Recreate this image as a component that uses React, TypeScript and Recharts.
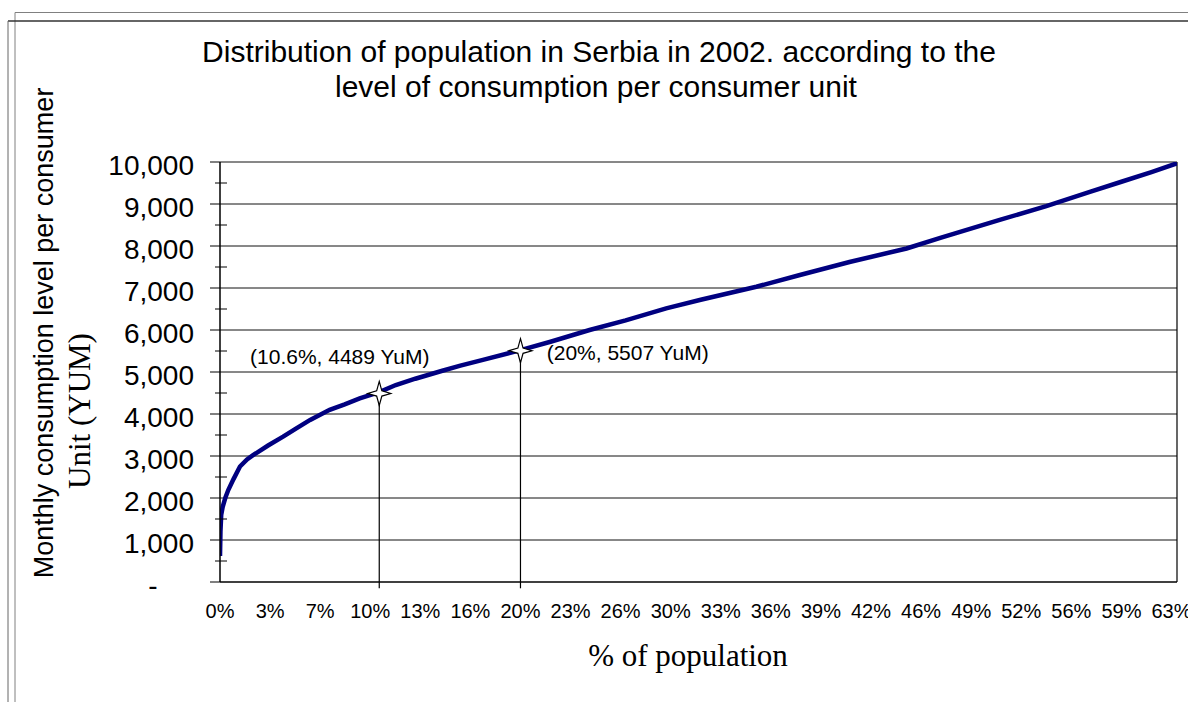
import React from 'react';
import { LineChart, Line, XAxis, YAxis, CartesianGrid, ReferenceLine, ReferenceDot } from 'recharts';

// ---- data ----
const populationPct = [
  0, 0.03, 0.08, 0.18, 0.35, 0.55, 0.9, 1.33, 1.8, 2.2, 3.2, 4.2, 5.0, 6.0, 7.3, 8.3, 9.3, 10.6,
  11.7, 13.0, 14.8, 16.0, 17.5, 20.0, 22.0, 24.6, 27.0, 29.7, 32.0, 35.7, 38.6, 41.9, 45.7, 48.0,
  51.9, 55.0, 57.9, 60.0, 62.0, 63.7,
];
const consumption = [
  620, 1200, 1600, 1790, 2000, 2190, 2450, 2750, 2920, 3020, 3250, 3460, 3640, 3860, 4100, 4230, 4370, 4520,
  4690, 4840, 5030, 5150, 5290, 5520, 5720, 6000, 6230, 6516, 6720, 7030, 7310, 7620, 7940, 8200,
  8620, 8950, 9290, 9530, 9760, 9970,
];
const xTickLabels = [
  '0%', '3%', '7%', '10%', '13%', '16%', '20%', '23%', '26%', '30%',
  '33%', '36%', '39%', '42%', '46%', '49%', '52%', '56%', '59%', '63%',
];
const yTicks = [0, 500, 1000, 1500, 2000, 2500, 3000, 3500, 4000, 4500, 5000, 5500, 6000, 6500, 7000, 7500, 8000, 8500, 9000, 9500, 10000];
const yGridValues = [1000, 2000, 3000, 4000, 5000, 6000, 7000, 8000, 9000, 10000];
const markerX = [10.6, 20];
const markerY = [4489, 5507];
const markerText = ['(10.6%, 4489 YuM)', '(20%, 5507 YuM)'];
const markerTextX = [2.0, 21.75];
const markerTextY = [5357, 5452];

const X_MAX = 63.7;
const TITLE_1 = 'Distribution of population in Serbia in 2002. according to the';
const TITLE_2 = 'level of consumption per consumer unit';
const Y_LABEL_1 = 'Monthly consumption level per consumer';
const Y_LABEL_2 = 'Unit (YUM)';
const X_LABEL = '% of population';

const data = populationPct.map((p, i) => ({ pct: p, value: consumption[i] }));
const xTickPositions = xTickLabels.map((_, i) => (i * 10) / 3);

const SANS = '"Liberation Sans", Arial, sans-serif';
const SERIF = '"Liberation Serif", "Times New Roman", serif';

const Y_TICK_SIZE = 10;
const Y_TICK_MARGIN = 16;

const YTick = (props: any) => {
  const { x, y, payload } = props;
  const v = payload.value as number;
  const axisX = x + Y_TICK_SIZE + Y_TICK_MARGIN;
  if (v % 1000 !== 0) {
    return <line x1={axisX - 5} x2={axisX + 7} y1={y} y2={y} stroke="#000" strokeWidth={1} />;
  }
  const label = v === 0 ? '-' : v.toLocaleString('en-US');
  return (
    <g>
      <line x1={axisX - 10} x2={axisX} y1={y} y2={y} stroke="#000" strokeWidth={1} />
      <text
        x={v === 0 ? axisX - 67 : x}
        y={y}
        dy={13}
        textAnchor={v === 0 ? 'middle' : 'end'}
        fontFamily={SANS}
        fontSize={28}
        fill="#000"
      >
        {label}
      </text>
    </g>
  );
};

const XTick = (props: any) => {
  const { x, y, index } = props;
  return (
    <text x={x} y={y} dy="0.71em" textAnchor="middle" fontFamily={SANS} fontSize={20} fill="#000">
      {xTickLabels[index]}
    </text>
  );
};

const Star = (props: any) => {
  const { cx, cy } = props;
  const h = 12;
  const w = 11.5;
  const k = 2.6;
  const pts = [
    [cx, cy - h],
    [cx + k, cy - k],
    [cx + w, cy],
    [cx + k, cy + k],
    [cx, cy + h],
    [cx - k, cy + k],
    [cx - w, cy],
    [cx - k, cy - k],
  ]
    .map((p) => p.join(','))
    .join(' ');
  return <polygon points={pts} fill="#fff" stroke="#000" strokeWidth={1.2} />;
};

const makeTextShape = (txt: string) => (props: any) => {
  const { cx, cy } = props;
  return (
    <text x={cx} y={cy} dy={7} textAnchor="start" fontFamily={SANS} fontSize={21} fill="#000">
      {txt}
    </text>
  );
};

export default function App() {
  return (
    <div style={{ position: 'absolute', left: 0, top: 0, width: 1188, height: 702, background: '#fff', overflow: 'hidden' }}>
      <LineChart
        width={1188}
        height={702}
        data={data}
        margin={{ top: 162, right: 11, bottom: 90, left: 110 }}
      >
        <CartesianGrid horizontal vertical={false} horizontalValues={yGridValues} stroke="#111" strokeWidth={1} />
        <XAxis
          dataKey="pct"
          type="number"
          domain={[0, X_MAX]}
          ticks={xTickPositions}
          interval={0}
          allowDataOverflow
          height={30}
          axisLine={{ stroke: '#000', strokeWidth: 1.5 }}
          tickLine={false}
          tickSize={6}
          tickMargin={16}
          tick={<XTick />}
        />
        <YAxis
          type="number"
          domain={[0, 10000]}
          ticks={yTicks}
          interval={0}
          allowDataOverflow
          width={110}
          axisLine={{ stroke: '#000', strokeWidth: 1.5 }}
          tickLine={false}
          tickSize={Y_TICK_SIZE}
          tickMargin={Y_TICK_MARGIN}
          tick={<YTick />}
        />
        <ReferenceLine x={X_MAX} stroke="#000" strokeWidth={1.2} />
        <Line
          dataKey="value"
          type="linear"
          stroke="#000080"
          strokeWidth={4.5}
          dot={false}
          isAnimationActive={false}
        />
        {markerX.map((mx, i) => (
          <ReferenceLine
            key={'seg' + i}
            segment={[
              { x: mx, y: -150 },
              { x: mx, y: markerY[i] },
            ]}
            stroke="#000"
            strokeWidth={1.2}
            ifOverflow="visible"
          />
        ))}
        {markerX.map((mx, i) => (
          <ReferenceDot key={'star' + i} x={mx} y={markerY[i]} r={12} shape={<Star />} ifOverflow="visible" />
        ))}
        {markerText.map((t, i) => (
          <ReferenceDot
            key={'txt' + i}
            x={markerTextX[i]}
            y={markerTextY[i]}
            r={1}
            shape={makeTextShape(t)}
            ifOverflow="visible"
          />
        ))}
      </LineChart>
      <svg
        width={1188}
        height={702}
        style={{ position: 'absolute', left: 0, top: 0, pointerEvents: 'none' }}
      >
        <line x1={15} y1={12.5} x2={1188} y2={12.5} stroke="#808080" strokeWidth={1} />
        <line x1={15} y1={12.5} x2={15} y2={702} stroke="#808080" strokeWidth={1} />
        <line x1={8} y1={21} x2={1188} y2={21} stroke="#333" strokeWidth={1.5} />
        <line x1={8} y1={21} x2={8} y2={702} stroke="#666" strokeWidth={1} />
        <text x={599} y={62} textAnchor="middle" fontFamily={SANS} fontSize={30} fill="#000">
          {TITLE_1}
        </text>
        <text x={596} y={97} textAnchor="middle" fontFamily={SANS} fontSize={30} fill="#000">
          {TITLE_2}
        </text>
        <text
          x={53}
          y={333}
          textAnchor="middle"
          transform="rotate(-90 53 333)"
          fontFamily={SANS}
          fontSize={27}
          fill="#000"
        >
          {Y_LABEL_1}
        </text>
        <text
          x={90}
          y={411}
          textAnchor="middle"
          transform="rotate(-90 90 411)"
          fontFamily={SERIF}
          fontSize={31}
          fill="#000"
        >
          {Y_LABEL_2}
        </text>
        <text x={688} y={666} textAnchor="middle" fontFamily={SERIF} fontSize={31} fill="#000">
          {X_LABEL}
        </text>
      </svg>
    </div>
  );
}
